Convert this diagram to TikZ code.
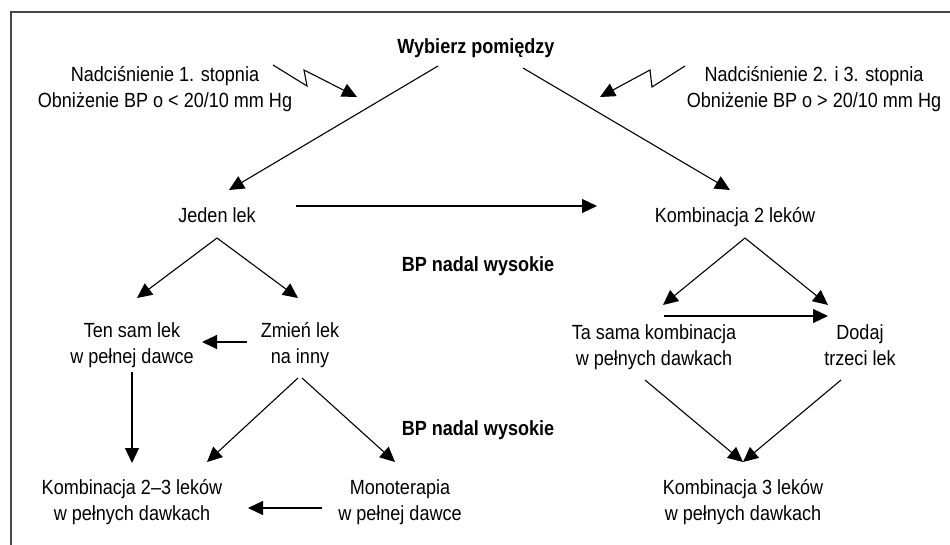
\documentclass[tikz,border=0pt]{standalone}
\usepackage{fontspec}
\setmainfont{Liberation Sans}[FakeStretch=0.88]
\usetikzlibrary{arrows.meta}
\begin{document}
\begin{tikzpicture}[x=1pt,y=-1pt,
  lbl/.style={inner sep=0pt, anchor=base, align=center, font=\fontsize{20.5}{26}\selectfont},
  bold/.style={lbl, font=\fontsize{20.5}{26}\selectfont\bfseries},
  arr/.style={line width=1.1pt, -{Triangle[length=15pt,width=14pt]}},
  frame/.style={line width=1.4pt, draw={rgb,255:red,70;green,70;blue,70}}]
\useasboundingbox (0,0) rectangle (950,545);
\fill[white] (0,0) rectangle (950,545);
\draw[frame] (11,545) -- (11,12) -- (950,12);
% texts (two-line nodes are placed at the baseline of their last line)
\node[bold] (wyb) at (476,54) {Wybierz pomiędzy};
\node[lbl] (st1) at (165,108) {Nadciśnienie 1. stopnia\\Obniżenie BP o < 20/10 mm Hg};
\node[lbl] (st2) at (814,108) {Nadciśnienie 2. i 3. stopnia\\Obniżenie BP o > 20/10 mm Hg};
\node[lbl] (jeden) at (217,223) {Jeden lek};
\node[lbl] (komb2) at (735,223) {Kombinacja 2 leków};
\node[bold] (bp1) at (478,272) {BP nadal wysokie};
\node[lbl] (ten) at (132,363) {Ten sam lek\\w pełnej dawce};
\node[lbl] (zmien) at (300,363) {Zmień lek\\na inny};
\node[lbl] (tasama) at (654,365) {Ta sama kombinacja\\w pełnych dawkach};
\node[lbl] (dodaj) at (860,365) {Dodaj\\trzeci lek};
\node[bold] (bp2) at (478,435) {BP nadal wysokie};
\node[lbl] (komb23) at (132,520) {Kombinacja 2–3 leków\\w pełnych dawkach};
\node[lbl] (mono) at (400,520) {Monoterapia\\w pełnej dawce};
\node[lbl] (komb3) at (743,520) {Kombinacja 3 leków\\w pełnych dawkach};
% connector end points
\coordinate (wL) at (438,66);  \coordinate (jT) at (229,190);
\coordinate (wR) at (523,68);  \coordinate (kT) at (730,190);
\coordinate (z1a) at (273,65); \coordinate (z1b) at (307,86); \coordinate (z1c) at (304,70); \coordinate (z1d) at (357,97);
\coordinate (z2a) at (685,66); \coordinate (z2b) at (652,87); \coordinate (z2c) at (650,70); \coordinate (z2d) at (600,97);
\coordinate (jR) at (296,206); \coordinate (kL) at (597,206);
\coordinate (jB) at (217,238); \coordinate (tenT) at (137,298); \coordinate (zmT) at (298,298);
\coordinate (kB) at (745,238); \coordinate (taT) at (663,305); \coordinate (doT) at (828,305);
\coordinate (taR) at (664,316); \coordinate (doL) at (828,316);
\coordinate (zmL) at (247,342); \coordinate (tenR) at (202,342);
\coordinate (tenB) at (132,372); \coordinate (k23T) at (132,463);
\coordinate (zmBL) at (298,378); \coordinate (k23TR) at (207,462);
\coordinate (zmBR) at (302,378); \coordinate (monoT) at (395,462);
\coordinate (monoL) at (322,508); \coordinate (k23R) at (248,508);
\coordinate (taB) at (645,380); \coordinate (doB) at (841,380); \coordinate (k3T) at (743,462);
% connectors
\draw[arr] (wL) -- (jT);
\draw[arr] (wR) -- (kT);
\draw[arr] (z1a) -- (z1b) -- (z1c) -- (z1d);
\draw[arr] (z2a) -- (z2b) -- (z2c) -- (z2d);
\draw[arr] (jR) -- (kL);
\draw[arr] (jB) -- (tenT);
\draw[arr] (jB) -- (zmT);
\draw[arr] (kB) -- (taT);
\draw[arr] (kB) -- (doT);
\draw[arr] (taR) -- (doL);
\draw[arr] (zmL) -- (tenR);
\draw[arr] (tenB) -- (k23T);
\draw[arr] (zmBL) -- (k23TR);
\draw[arr] (zmBR) -- (monoT);
\draw[arr] (monoL) -- (k23R);
\draw[arr] (taB) -- (k3T);
\draw[arr] (doB) -- (k3T);
\end{tikzpicture}
\end{document}
